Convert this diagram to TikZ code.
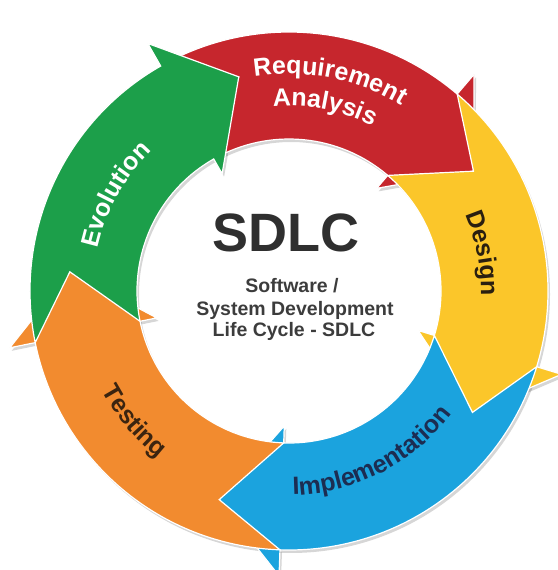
\documentclass[tikz,border=0pt]{standalone}
\usepackage{fontspec}
\setmainfont{Liberation Sans}
\usetikzlibrary{decorations.text}
\definecolor{cred}{RGB}{198,38,45}
\definecolor{cyel}{RGB}{251,198,42}
\definecolor{cblue}{RGB}{27,163,222}
\definecolor{corg}{RGB}{242,139,47}
\definecolor{cgrn}{RGB}{28,159,74}
\definecolor{tdes}{RGB}{42,31,16}
\definecolor{timp}{RGB}{28,45,82}
\definecolor{ttst}{RGB}{59,36,16}
\definecolor{tsdlc}{RGB}{47,47,47}
\definecolor{tsub}{RGB}{60,60,60}
\newcommand\ringfont{\bfseries\fontsize{25}{25}\selectfont}
\begin{document}
\begin{tikzpicture}[x=1pt,y=1pt,
  arrowshape/.style={draw=white, line width=1.2pt, line join=miter},
  shadowshape/.style={fill=black, opacity=0.16},
  ringlabel/.style={decorate, decoration={text along path, text align=center, text={#1}}},
  bigtitle/.style={font=\bfseries\fontsize{54}{54}\selectfont, text=tsdlc, anchor=base, inner sep=0pt},
  subtitle/.style={font=\bfseries\fontsize{19.5}{22}\selectfont, text=tsub, anchor=base, inner sep=0pt}]
\useasboundingbox (0,0) rectangle (557,570);
\begin{scope}[shift={(289,279)}]
  % shadows
  \foreach \t/\h in {119.7/49.5, 49.5/-17, -17/-92, -92/-168.5, 191.5/119.7}{
    \fill[shadowshape, shift={(2,-3)}] (\t:259) arc[start angle=\t, end angle=\h, radius=259]
      -- (\h:285) -- ({\h-16.5}:220) -- (\h:135) -- (\h:152)
      arc[start angle=\h, end angle=\t, radius=152] -- ({\t-16.5}:220) -- cycle;
  }
  % arrows
  \foreach \t/\h/\c in {119.7/49.5/cred, 49.5/-17/cyel, -17/-92/cblue, -92/-168.5/corg, 191.5/119.7/cgrn}{
    \filldraw[arrowshape, fill=\c] (\t:259) arc[start angle=\t, end angle=\h, radius=259]
      -- (\h:285) -- ({\h-16.5}:220) -- (\h:135) -- (\h:152)
      arc[start angle=\h, end angle=\t, radius=152] -- ({\t-16.5}:220) -- cycle;
  }
  % ring labels
  \path[ringlabel={|\ringfont\color{white}|Requirement}] (124:217) arc[start angle=124, end angle=34, radius=217];
  \path[ringlabel={|\ringfont\color{white}|Analysis}] (124:185) arc[start angle=124, end angle=34, radius=185];
  \path[ringlabel={|\ringfont\color{tdes}|Design}] (56:192) arc[start angle=56, end angle=-34, radius=192];
  \path[ringlabel={|\ringfont\color{timp}|Implementation}] (-113:204) arc[start angle=-113, end angle=-13, radius=204];
  \path[ringlabel={|\ringfont\color{ttst}|Testing}] (175:212) arc[start angle=175, end angle=265, radius=212];
  \path[ringlabel={|\ringfont\color{white}|Evolution}] (196:196) arc[start angle=196, end angle=106, radius=196];
\end{scope}
\node[bigtitle] (sdlc) at (286,318) {SDLC};
\node[subtitle] (sub1) at (292,277) {Software /};
\node[subtitle] (sub2) at (295,254) {System Development};
\node[subtitle] (sub3) at (294,233) {Life Cycle - SDLC};
\end{tikzpicture}
\end{document}
